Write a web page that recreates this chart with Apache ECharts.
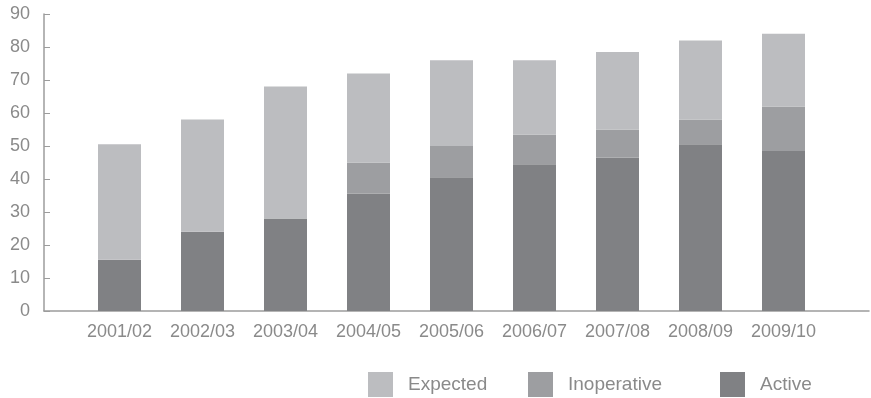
<!DOCTYPE html>
<html>
<head>
<meta charset="utf-8">
<style>html,body{margin:0;padding:0;background:#fff;}#c{width:871px;height:398px;}</style>
<script src="https://cdn.jsdelivr.net/npm/echarts@6/dist/echarts.min.js"></script>
</head>
<body>
<div id="c"></div>
<script>
const categories = ['2001/02','2002/03','2003/04','2004/05','2005/06','2006/07','2007/08','2008/09','2009/10'];
const active      = [15.5, 24, 28, 35.5, 40.5, 44.5, 46.5, 50.5, 48.5];
const inoperative = [0, 0, 0, 9.5, 9.5, 9, 8.5, 7.5, 13.5];
const expected    = [35, 34, 40, 27, 26, 22.5, 23.5, 24, 22];
const yTicks = { min: 0, max: 90, interval: 10 };
const legendNames = ['Expected', 'Inoperative', 'Active'];

const textColor = '#8a8a8a';
const fontFamily = 'Liberation Sans, Arial, sans-serif';
const legendLeft = [368, 528, 720];
const chart = echarts.init(document.getElementById('c'), null, {renderer: 'canvas'});
chart.setOption({
  animation: false,
  backgroundColor: '#ffffff',
  textStyle: { fontFamily: fontFamily },
  grid: [
    { left: 44, right: 2, top: 14, bottom: 87 },
    { left: 78, width: 747, top: 14, bottom: 87 }
  ],
  xAxis: [
    { type: 'value', gridIndex: 0, min: 0, max: 1,
      axisLine: { show: true, lineStyle: { color: '#9c9c9c', width: 1.5 } },
      axisTick: { show: false }, axisLabel: { show: false }, splitLine: { show: false } },
    { type: 'category', gridIndex: 1, data: categories,
      axisLine: { show: false }, axisTick: { show: false }, splitLine: { show: false },
      axisLabel: { color: textColor, fontSize: 18, margin: 12, interval: 0, fontFamily: fontFamily } }
  ],
  yAxis: [
    { type: 'value', gridIndex: 0, min: yTicks.min, max: yTicks.max, interval: yTicks.interval,
      axisLine: { show: true, lineStyle: { color: '#9c9c9c', width: 1.5 } },
      axisTick: { show: true, inside: true, length: 6, lineStyle: { color: '#9c9c9c', width: 1 } },
      splitLine: { show: false },
      axisLabel: { color: textColor, fontSize: 18, margin: 14, fontFamily: fontFamily } },
    { type: 'value', gridIndex: 1, min: yTicks.min, max: yTicks.max, show: false, splitLine: { show: false } }
  ],
  legend: legendNames.map((n, i) => ({
    data: [n],
    left: legendLeft[i], top: 372, padding: 0,
    icon: 'rect', itemWidth: 25, itemHeight: 25,
    textStyle: { color: textColor, fontSize: 19, padding: [0, 0, 0, 10], fontFamily: fontFamily }
  })),
  series: [
    { name: 'Active', type: 'bar', stack: 'total', xAxisIndex: 1, yAxisIndex: 1,
      data: active, barWidth: 43, itemStyle: { color: '#808184' } },
    { name: 'Inoperative', type: 'bar', stack: 'total', xAxisIndex: 1, yAxisIndex: 1,
      data: inoperative, barWidth: 43, itemStyle: { color: '#9d9ea1' } },
    { name: 'Expected', type: 'bar', stack: 'total', xAxisIndex: 1, yAxisIndex: 1,
      data: expected, barWidth: 43, itemStyle: { color: '#bcbdc0' } }
  ]
});
</script>
</body>
</html>
